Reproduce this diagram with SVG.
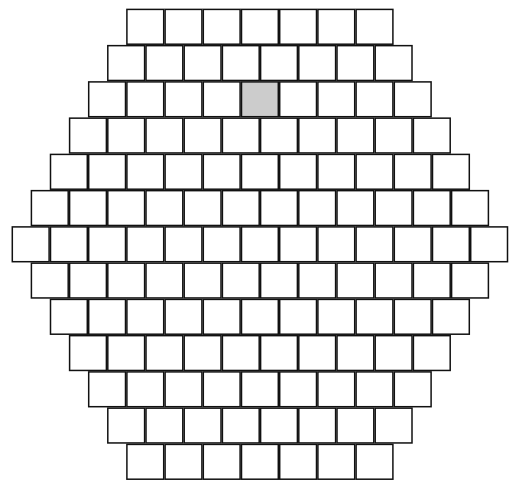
<svg xmlns="http://www.w3.org/2000/svg" xmlns:xlink="http://www.w3.org/1999/xlink" width="520" height="481" viewBox="0 0 520 481">
<style>
.c{fill:#fff;stroke:#111;stroke-width:1.5}
.h{fill:#cccccc}
</style>
<defs><rect id="cell" width="36.8" height="34.8"/></defs>
<rect width="520" height="481" fill="#fff"/>
<g id="row0" transform="translate(0,9.4)">
<g id="c0-0"><use href="#cell" class="c" x="126.9"/></g><g id="c0-1"><use href="#cell" class="c" x="165.1"/></g><g id="c0-2"><use href="#cell" class="c" x="203.3"/></g><g id="c0-3"><use href="#cell" class="c" x="241.5"/></g><g id="c0-4"><use href="#cell" class="c" x="279.7"/></g><g id="c0-5"><use href="#cell" class="c" x="317.9"/></g><g id="c0-6"><use href="#cell" class="c" x="356.1"/></g>
</g>
<g id="row1" transform="translate(0,45.65)">
<g id="c1-0"><use href="#cell" class="c" x="107.8"/></g><g id="c1-1"><use href="#cell" class="c" x="146.0"/></g><g id="c1-2"><use href="#cell" class="c" x="184.2"/></g><g id="c1-3"><use href="#cell" class="c" x="222.4"/></g><g id="c1-4"><use href="#cell" class="c" x="260.6"/></g><g id="c1-5"><use href="#cell" class="c" x="298.8"/></g><g id="c1-6"><use href="#cell" class="c" x="337.0"/></g><g id="c1-7"><use href="#cell" class="c" x="375.2"/></g>
</g>
<g id="row2" transform="translate(0,81.9)">
<g id="c2-0"><use href="#cell" class="c" x="88.7"/></g><g id="c2-1"><use href="#cell" class="c" x="126.9"/></g><g id="c2-2"><use href="#cell" class="c" x="165.1"/></g><g id="c2-3"><use href="#cell" class="c" x="203.3"/></g><g id="c2-4"><use href="#cell" class="c h" x="241.5"/></g><g id="c2-5"><use href="#cell" class="c" x="279.7"/></g><g id="c2-6"><use href="#cell" class="c" x="317.9"/></g><g id="c2-7"><use href="#cell" class="c" x="356.1"/></g><g id="c2-8"><use href="#cell" class="c" x="394.3"/></g>
</g>
<g id="row3" transform="translate(0,118.15)">
<g id="c3-0"><use href="#cell" class="c" x="69.6"/></g><g id="c3-1"><use href="#cell" class="c" x="107.8"/></g><g id="c3-2"><use href="#cell" class="c" x="146.0"/></g><g id="c3-3"><use href="#cell" class="c" x="184.2"/></g><g id="c3-4"><use href="#cell" class="c" x="222.4"/></g><g id="c3-5"><use href="#cell" class="c" x="260.6"/></g><g id="c3-6"><use href="#cell" class="c" x="298.8"/></g><g id="c3-7"><use href="#cell" class="c" x="337.0"/></g><g id="c3-8"><use href="#cell" class="c" x="375.2"/></g><g id="c3-9"><use href="#cell" class="c" x="413.4"/></g>
</g>
<g id="row4" transform="translate(0,154.4)">
<g id="c4-0"><use href="#cell" class="c" x="50.5"/></g><g id="c4-1"><use href="#cell" class="c" x="88.7"/></g><g id="c4-2"><use href="#cell" class="c" x="126.9"/></g><g id="c4-3"><use href="#cell" class="c" x="165.1"/></g><g id="c4-4"><use href="#cell" class="c" x="203.3"/></g><g id="c4-5"><use href="#cell" class="c" x="241.5"/></g><g id="c4-6"><use href="#cell" class="c" x="279.7"/></g><g id="c4-7"><use href="#cell" class="c" x="317.9"/></g><g id="c4-8"><use href="#cell" class="c" x="356.1"/></g><g id="c4-9"><use href="#cell" class="c" x="394.3"/></g><g id="c4-10"><use href="#cell" class="c" x="432.5"/></g>
</g>
<g id="row5" transform="translate(0,190.65)">
<g id="c5-0"><use href="#cell" class="c" x="31.4"/></g><g id="c5-1"><use href="#cell" class="c" x="69.6"/></g><g id="c5-2"><use href="#cell" class="c" x="107.8"/></g><g id="c5-3"><use href="#cell" class="c" x="146.0"/></g><g id="c5-4"><use href="#cell" class="c" x="184.2"/></g><g id="c5-5"><use href="#cell" class="c" x="222.4"/></g><g id="c5-6"><use href="#cell" class="c" x="260.6"/></g><g id="c5-7"><use href="#cell" class="c" x="298.8"/></g><g id="c5-8"><use href="#cell" class="c" x="337.0"/></g><g id="c5-9"><use href="#cell" class="c" x="375.2"/></g><g id="c5-10"><use href="#cell" class="c" x="413.4"/></g><g id="c5-11"><use href="#cell" class="c" x="451.6"/></g>
</g>
<g id="row6" transform="translate(0,226.9)">
<g id="c6-0"><use href="#cell" class="c" x="12.3"/></g><g id="c6-1"><use href="#cell" class="c" x="50.5"/></g><g id="c6-2"><use href="#cell" class="c" x="88.7"/></g><g id="c6-3"><use href="#cell" class="c" x="126.9"/></g><g id="c6-4"><use href="#cell" class="c" x="165.1"/></g><g id="c6-5"><use href="#cell" class="c" x="203.3"/></g><g id="c6-6"><use href="#cell" class="c" x="241.5"/></g><g id="c6-7"><use href="#cell" class="c" x="279.7"/></g><g id="c6-8"><use href="#cell" class="c" x="317.9"/></g><g id="c6-9"><use href="#cell" class="c" x="356.1"/></g><g id="c6-10"><use href="#cell" class="c" x="394.3"/></g><g id="c6-11"><use href="#cell" class="c" x="432.5"/></g><g id="c6-12"><use href="#cell" class="c" x="470.7"/></g>
</g>
<g id="row7" transform="translate(0,263.15)">
<g id="c7-0"><use href="#cell" class="c" x="31.4"/></g><g id="c7-1"><use href="#cell" class="c" x="69.6"/></g><g id="c7-2"><use href="#cell" class="c" x="107.8"/></g><g id="c7-3"><use href="#cell" class="c" x="146.0"/></g><g id="c7-4"><use href="#cell" class="c" x="184.2"/></g><g id="c7-5"><use href="#cell" class="c" x="222.4"/></g><g id="c7-6"><use href="#cell" class="c" x="260.6"/></g><g id="c7-7"><use href="#cell" class="c" x="298.8"/></g><g id="c7-8"><use href="#cell" class="c" x="337.0"/></g><g id="c7-9"><use href="#cell" class="c" x="375.2"/></g><g id="c7-10"><use href="#cell" class="c" x="413.4"/></g><g id="c7-11"><use href="#cell" class="c" x="451.6"/></g>
</g>
<g id="row8" transform="translate(0,299.4)">
<g id="c8-0"><use href="#cell" class="c" x="50.5"/></g><g id="c8-1"><use href="#cell" class="c" x="88.7"/></g><g id="c8-2"><use href="#cell" class="c" x="126.9"/></g><g id="c8-3"><use href="#cell" class="c" x="165.1"/></g><g id="c8-4"><use href="#cell" class="c" x="203.3"/></g><g id="c8-5"><use href="#cell" class="c" x="241.5"/></g><g id="c8-6"><use href="#cell" class="c" x="279.7"/></g><g id="c8-7"><use href="#cell" class="c" x="317.9"/></g><g id="c8-8"><use href="#cell" class="c" x="356.1"/></g><g id="c8-9"><use href="#cell" class="c" x="394.3"/></g><g id="c8-10"><use href="#cell" class="c" x="432.5"/></g>
</g>
<g id="row9" transform="translate(0,335.65)">
<g id="c9-0"><use href="#cell" class="c" x="69.6"/></g><g id="c9-1"><use href="#cell" class="c" x="107.8"/></g><g id="c9-2"><use href="#cell" class="c" x="146.0"/></g><g id="c9-3"><use href="#cell" class="c" x="184.2"/></g><g id="c9-4"><use href="#cell" class="c" x="222.4"/></g><g id="c9-5"><use href="#cell" class="c" x="260.6"/></g><g id="c9-6"><use href="#cell" class="c" x="298.8"/></g><g id="c9-7"><use href="#cell" class="c" x="337.0"/></g><g id="c9-8"><use href="#cell" class="c" x="375.2"/></g><g id="c9-9"><use href="#cell" class="c" x="413.4"/></g>
</g>
<g id="row10" transform="translate(0,371.9)">
<g id="c10-0"><use href="#cell" class="c" x="88.7"/></g><g id="c10-1"><use href="#cell" class="c" x="126.9"/></g><g id="c10-2"><use href="#cell" class="c" x="165.1"/></g><g id="c10-3"><use href="#cell" class="c" x="203.3"/></g><g id="c10-4"><use href="#cell" class="c" x="241.5"/></g><g id="c10-5"><use href="#cell" class="c" x="279.7"/></g><g id="c10-6"><use href="#cell" class="c" x="317.9"/></g><g id="c10-7"><use href="#cell" class="c" x="356.1"/></g><g id="c10-8"><use href="#cell" class="c" x="394.3"/></g>
</g>
<g id="row11" transform="translate(0,408.15)">
<g id="c11-0"><use href="#cell" class="c" x="107.8"/></g><g id="c11-1"><use href="#cell" class="c" x="146.0"/></g><g id="c11-2"><use href="#cell" class="c" x="184.2"/></g><g id="c11-3"><use href="#cell" class="c" x="222.4"/></g><g id="c11-4"><use href="#cell" class="c" x="260.6"/></g><g id="c11-5"><use href="#cell" class="c" x="298.8"/></g><g id="c11-6"><use href="#cell" class="c" x="337.0"/></g><g id="c11-7"><use href="#cell" class="c" x="375.2"/></g>
</g>
<g id="row12" transform="translate(0,444.4)">
<g id="c12-0"><use href="#cell" class="c" x="126.9"/></g><g id="c12-1"><use href="#cell" class="c" x="165.1"/></g><g id="c12-2"><use href="#cell" class="c" x="203.3"/></g><g id="c12-3"><use href="#cell" class="c" x="241.5"/></g><g id="c12-4"><use href="#cell" class="c" x="279.7"/></g><g id="c12-5"><use href="#cell" class="c" x="317.9"/></g><g id="c12-6"><use href="#cell" class="c" x="356.1"/></g>
</g>
<g id="connectors"/>
</svg>
